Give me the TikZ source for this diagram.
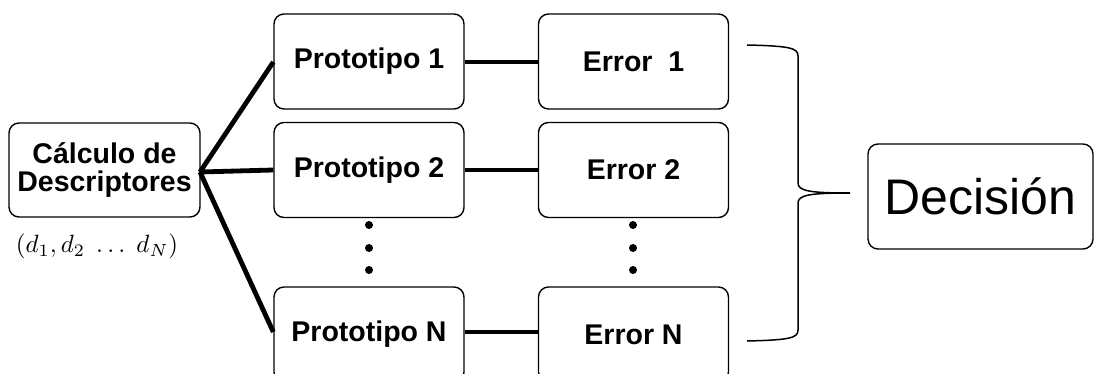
\documentclass[tikz,border=0pt]{standalone}
\usepackage{fontspec}
\setmainfont{Liberation Sans}
\begin{document}
\begin{tikzpicture}[x=1pt,y=1pt,
  box/.style={draw,line width=1.4pt,rounded corners=10pt,inner sep=0pt,align=center},
  pbox/.style={box,minimum width=190pt,minimum height=95pt,font=\fontsize{28.5}{29}\selectfont\bfseries},
  conn/.style={line width=4.8pt},
  thin/.style={line width=1.5pt},
  dot/.style={circle,fill,inner sep=0pt,minimum size=8pt}]
\useasboundingbox (0,0) rectangle (1094,-374);
\clip (0,0) rectangle (1094,-374);
\node[box,minimum width=191pt,minimum height=94pt,font=\fontsize{28.5}{28}\selectfont\bfseries] (calc) at (104.5,-170) {Cálculo de\\Descriptores};
\node[scale=2.5] (lab) at (97,-246) {$(d_1, d_2\ \ldots\ d_N)$};
\node[pbox] (p1) at (369,-61.5) {Prototipo 1};
\node[pbox] (p2) at (369,-170) {Prototipo 2};
\node[pbox] (pn) at (369,-334.5) {Prototipo N};
\node[pbox] (e1) at (633.5,-61.5) {Error\ \ 1};
\node[pbox] (e2) at (633.5,-170) {Error 2};
\node[pbox] (en) at (633.5,-334.5) {Error N};
\node[box,minimum width=225pt,minimum height=105pt,font=\fontsize{50}{52}\selectfont] (dec) at (980.5,-196.5) {Decisión};
\coordinate (c0) at (200,-172);
\draw[conn] (c0) -- (p1.west |- 0,-62);
\draw[conn] (c0) -- (p2.west |- 0,-170);
\draw[conn] (c0) -- (pn.west |- 0,-332);
\draw[conn] (p1.east |- 0,-62) -- (e1.west |- 0,-62);
\draw[conn] (p2.east |- 0,-170) -- (e2.west |- 0,-170);
\draw[conn] (pn.east |- 0,-332) -- (en.west |- 0,-332);
\foreach \y/\n in {-225/a,-248/b,-270/c} {
  \node[dot] (pd\n) at (369,\y) {};
  \node[dot] (ed\n) at (633,\y) {};
}
\coordinate (bt) at (747,-45);
\coordinate (bb) at (747,-341);
\coordinate (btip) at (850,-193);
\draw[thin] (bt) .. controls (790,-46) and (798,-48) .. (798,-56)
  -- (798,-183) .. controls (798,-191) and (810,-193) .. (btip)
  (btip) .. controls (810,-193) and (798,-195) .. (798,-203)
  -- (798,-330) .. controls (798,-338) and (790,-340) .. (bb);
\end{tikzpicture}
\end{document}
